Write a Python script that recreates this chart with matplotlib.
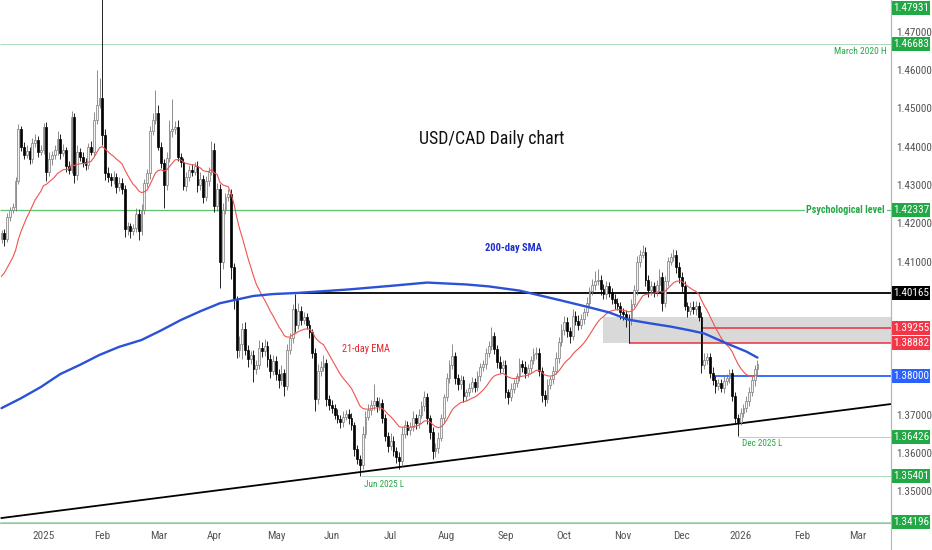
import numpy as np
import pandas as pd
import matplotlib
matplotlib.use("Agg")
import matplotlib.pyplot as plt
from matplotlib import font_manager
from matplotlib.patches import Rectangle
from matplotlib.lines import Line2D

# ---- daily closes (one list per month) ----
first_open = 1.4160
dec24 = [1.4175, 1.4158, 1.4215, 1.4235, 1.4242, 1.4310, 1.4445, 1.4400, 1.4378, 1.4388,
         1.4368, 1.4410, 1.4418, 1.4385, 1.4392]
jan25 = [1.4450, 1.4335, 1.4368, 1.4378, 1.4390, 1.4420, 1.4383, 1.4390, 1.4350, 1.4340,
         1.4478, 1.4325, 1.4385, 1.4372, 1.4360, 1.4352, 1.4398, 1.4385, 1.4470, 1.4510, 1.4528]
feb25 = [1.4430, 1.4330, 1.4320, 1.4312, 1.4322, 1.4295, 1.4305, 1.4290, 1.4185, 1.4192,
         1.4180, 1.4188, 1.4225, 1.4180, 1.4235, 1.4305, 1.4330, 1.4440, 1.4470, 1.4488]
mar25 = [1.4400, 1.4357, 1.4300, 1.4370, 1.4440, 1.4445, 1.4450, 1.4372, 1.4360, 1.4298,
         1.4320, 1.4340, 1.4335, 1.4350, 1.4300, 1.4315, 1.4268, 1.4310, 1.4335, 1.4390]
apr25 = [1.4245, 1.4290, 1.4100, 1.4235, 1.4268, 1.4275, 1.4085, 1.4000, 1.3868, 1.3885,
         1.3925, 1.3870, 1.3845, 1.3855, 1.3820, 1.3830, 1.3875, 1.3865, 1.3880, 1.3845,
         1.3815, 1.3840]
may25 = [1.3805, 1.3790, 1.3810, 1.3775, 1.3870, 1.3900, 1.3975, 1.3935, 1.3972, 1.3948,
         1.3955, 1.3935, 1.3915, 1.3862, 1.3740, 1.3815, 1.3825, 1.3835, 1.3740, 1.3725]
jun25 = [1.3718, 1.3700, 1.3688, 1.3680, 1.3695, 1.3702, 1.3690, 1.3672, 1.3610, 1.3585,
         1.3568, 1.3650, 1.3695, 1.3712, 1.3725, 1.3735, 1.3722, 1.3730, 1.3690, 1.3645, 1.3618]
jul25 = [1.3632, 1.3605, 1.3590, 1.3578, 1.3650, 1.3672, 1.3660, 1.3668, 1.3690, 1.3678,
         1.3700, 1.3722, 1.3745, 1.3690, 1.3655, 1.3605, 1.3612, 1.3640, 1.3690, 1.3745]
aug25 = [1.3795, 1.3830, 1.3852, 1.3795, 1.3780, 1.3790, 1.3750, 1.3758, 1.3770, 1.3785,
         1.3772, 1.3800, 1.3825, 1.3832, 1.3860, 1.3880, 1.3905, 1.3872, 1.3838, 1.3822, 1.3830]
sep25 = [1.3758, 1.3745, 1.3768, 1.3782, 1.3800, 1.3832, 1.3825, 1.3808, 1.3822, 1.3842,
         1.3858, 1.3862, 1.3815, 1.3752, 1.3742, 1.3778, 1.3792, 1.3815, 1.3848, 1.3890, 1.3920]
oct25 = [1.3942, 1.3918, 1.3905, 1.3958, 1.3945, 1.3935, 1.3950, 1.3968, 1.3992, 1.4022,
         1.4038, 1.4048, 1.4052, 1.4028, 1.4015, 1.4035, 1.4020, 1.4002, 1.3992, 1.3985, 1.3968]
nov25 = [1.3962, 1.3950, 1.3946, 1.3990, 1.4025, 1.4100, 1.4118, 1.4125, 1.4052, 1.4025,
         1.4035, 1.4020, 1.4038, 1.4060, 1.3992, 1.4048, 1.4100, 1.4113, 1.4118, 1.4085, 1.4060]
dec25 = [1.4035, 1.3985, 1.3970, 1.3982, 1.3975, 1.3985, 1.3955, 1.3830, 1.3842, 1.3850,
         1.3810, 1.3790, 1.3775, 1.3782, 1.3770, 1.3788, 1.3795, 1.3808, 1.3750, 1.3690, 1.3682]
jan26 = [1.3705, 1.3718, 1.3735, 1.3760, 1.3790, 1.3818, 1.3832]

# wick lengths beyond the body, in pips (upper / lower)
wick_up = [8, 10, 12, 8, 10, 12, 15, 10, 12, 15, 10, 12, 14, 10, 12,
           12, 15, 18, 10, 14, 20, 12, 16, 10, 12, 14, 10, 18, 12, 14, 10, 12, 16, 20, 90, 52,
           265, 15, 18, 12, 14, 10, 15, 12, 10, 12, 8, 10, 15, 12, 14, 10, 12, 15, 18, 59,
           20, 12, 10, 15, 30, 80, 18, 20, 12, 10, 14, 12, 15, 10, 12, 18, 10, 14, 12, 25,
           20, 15, 12, 18, 10, 14, 15, 12, 10, 20, 14, 18, 12, 10, 14, 12, 20, 15, 18, 12, 14, 16,
           12, 14, 20, 10, 15, 12, 15, 41, 20, 12, 14, 10, 12, 10, 12, 18, 15, 20, 10, 12,
           12, 10, 15, 12, 14, 10, 12, 15, 10, 12, 10, 20, 14, 15, 12, 45, 12, 15, 10, 12, 10,
           20, 12, 10, 12, 18, 15, 12, 14, 20, 12, 15, 14, 18, 12, 10, 12, 15, 14, 12, 10,
           14, 12, 33, 12, 10, 14, 12, 10, 12, 14, 12, 15, 10, 12, 14, 12, 23, 12, 10, 14, 12,
           12, 10, 14, 12, 10, 15, 12, 14, 10, 12, 15, 14, 12, 10, 12, 14, 10, 12, 15, 12, 18,
           15, 12, 10, 18, 12, 14, 12, 10, 14, 12, 15, 27, 28, 14, 12, 15, 12, 10, 14, 12, 10,
           10, 12, 14, 12, 14, 15, 12, 17, 14, 12, 15, 12, 14, 20, 12, 15, 12, 10, 14, 12, 14,
           12, 14, 10, 12, 15, 12, 10, 14, 18, 12, 10, 14, 12, 10, 12, 14, 12, 10, 12, 10, 12,
           12, 10, 14, 12, 10, 12, 10]
wick_dn = [12, 18, 8, 10, 8, 10, 8, 12, 10, 8, 14, 10, 10, 12, 8,
           10, 25, 12, 15, 10, 12, 14, 8, 15, 12, 10, 20, 12, 10, 14, 12, 10, 8, 10, 12, 10,
           25, 18, 12, 14, 10, 15, 12, 14, 20, 15, 18, 12, 10, 24, 10, 12, 10, 14, 10, 12,
           10, 14, 60, 12, 10, 15, 12, 10, 14, 12, 15, 10, 12, 10, 18, 12, 14, 10, 12, 10,
           15, 12, 70, 20, 12, 10, 30, 25, 20, 18, 40, 15, 20, 12, 35, 14, 10, 15, 12, 20, 18, 12,
           15, 20, 12, 25, 10, 12, 14, 18, 12, 14, 10, 12, 14, 15, 30, 12, 14, 10, 18, 12,
           14, 12, 10, 15, 12, 10, 14, 12, 18, 15, 28, 10, 12, 10, 14, 12, 15, 10, 12, 14, 15,
           10, 14, 15, 20, 12, 10, 14, 12, 10, 15, 12, 10, 12, 14, 18, 20, 15, 12, 10, 12,
           10, 12, 10, 14, 15, 12, 18, 14, 10, 12, 14, 10, 12, 10, 12, 10, 12, 14, 15, 12, 10,
           15, 18, 10, 12, 10, 12, 14, 12, 10, 12, 10, 12, 15, 18, 20, 12, 10, 12, 10, 14, 10,
           12, 14, 18, 10, 12, 14, 10, 12, 10, 12, 10, 12, 10, 15, 14, 12, 14, 12, 15, 12, 18,
           15, 20, 58, 12, 10, 12, 14, 10, 15, 18, 12, 14, 10, 12, 20, 10, 12, 10, 12, 14, 15,
           14, 12, 15, 10, 12, 14, 10, 20, 12, 10, 14, 12, 18, 10, 12, 14, 10, 12, 15, 12, 39,
           10, 12, 10, 12, 10, 14, 12]

# 200-day SMA (bar index, value)
sma_bar = [0, 7, 14, 21, 28, 35, 42, 50, 57, 64, 71, 78, 83, 90, 97, 106, 110, 124, 140,
           152, 166, 174, 185, 200, 209, 217, 224, 232, 239, 246, 251, 259, 266, 270]
sma_val = [1.3717, 1.3743, 1.3772, 1.3806, 1.3830, 1.3856, 1.3877, 1.3895, 1.3920, 1.3947,
           1.3970, 1.3991, 1.3999, 1.4010, 1.4015, 1.4018, 1.4020, 1.4027, 1.4037, 1.4045,
           1.4040, 1.4035, 1.4024, 1.3998, 1.3982, 1.3967, 1.3948, 1.3938, 1.3930, 1.3920,
           1.3912, 1.3886, 1.3865, 1.3849]
ema_seed = 1.4050

# month labels (bar index of first trading day)
month_bar = [15, 36, 56, 76, 98, 118, 139, 159, 180, 201, 222, 243, 264, 286, 306]
month_lab = ['2025', 'Feb', 'Mar', 'Apr', 'May', 'Jun', 'Jul', 'Aug', 'Sep', 'Oct', 'Nov',
             'Dec', '2026', 'Feb', 'Mar']

# price axis grid labels (those under a price tag are left out)
ytick_vals = [1.35, 1.36, 1.37, 1.41, 1.42, 1.43, 1.44, 1.45, 1.46, 1.47]

# trendline anchors
trend_bar = [0, 318]
trend_val = [1.3430, 1.3728]

# horizontal levels and the bar they start from
lvl_price = [1.46683, 1.42337, 1.40165, 1.39255, 1.38882, 1.38000, 1.36426, 1.35401, 1.34196]
lvl_start = [-1, -1, 105, 250, 224, 254, 263, 128.5, -1]
lvl_color = ['#a8dcb5', '#5cc46e', '#000000', '#e8323c', '#e8323c', '#2962ff', '#a8dcb5',
             '#a8dcb5', '#a8dcb5']
lvl_width = [0.7, 0.9, 1.3, 1.1, 1.1, 1.3, 0.7, 0.7, 0.7]
zone_lo, zone_hi, zone_start = 1.38882, 1.39540, 215

# price tags on the right axis
tag_price = [1.47931, 1.46683, 1.42337, 1.40165, 1.39255, 1.38882, 1.38000, 1.36426, 1.35401,
             1.34196]
tag_color = ['#22a845', '#22a845', '#22a845', '#000000', '#f23645', '#f23645', '#2962ff',
             '#22a845', '#22a845', '#22a845']


def pick_font():
    """Use a narrow family when one is installed, else shrink DejaVu Sans."""
    fonts = font_manager.fontManager.ttflist
    names = {f.name for f in fonts}
    for fam in ['Liberation Sans Narrow', 'Roboto Condensed', 'Open Sans Condensed',
                'Noto Sans Condensed']:
        if fam in names:
            return fam, 'normal', 1.0
    if any(f.name == 'DejaVu Sans' and 'condensed' in str(f.stretch) for f in fonts):
        return 'DejaVu Sans', 'condensed', 0.9
    return 'DejaVu Sans', 'normal', 0.78


def build_ohlc():
    close = np.array(dec24 + jan25 + feb25 + mar25 + apr25 + may25 + jun25 + jul25 + aug25
                     + sep25 + oct25 + nov25 + dec25 + jan26)
    opn = np.concatenate([[first_open], close[:-1]])
    high = np.maximum(opn, close) + np.array(wick_up) * 1e-4
    low = np.minimum(opn, close) - np.array(wick_dn) * 1e-4
    return opn, high, low, close


def plot_chart():
    fam, stretch, k = pick_font()
    plt.rcParams['font.family'] = [fam, 'DejaVu Sans']
    plt.rcParams['font.stretch'] = stretch

    opn, high, low, close = build_ohlc()
    x = np.arange(len(close))
    ema = pd.Series(np.concatenate([[ema_seed], close])).ewm(span=21, adjust=False).mean().values[1:]

    fig = plt.figure(figsize=(9.32, 5.5), dpi=100)
    ax = fig.add_axes([0, 27 / 550, 891 / 932, 523 / 550])
    xmin, xmax = -0.54, 317.7
    ymin, ymax = 1.3417, 1.4783
    ax.set_xlim(xmin, xmax)
    ax.set_ylim(ymin, ymax)

    # levels
    for p, s, c, w in zip(lvl_price, lvl_start, lvl_color, lvl_width):
        ax.hlines(p, max(s, xmin), xmax, color=c, lw=w, zorder=2)
    ax.add_patch(Rectangle((zone_start, zone_lo), xmax - zone_start, zone_hi - zone_lo,
                           facecolor='#d9d9d9', edgecolor='none', zorder=1))

    ax.plot(trend_bar, trend_val, color='#000000', lw=1.3, zorder=2)

    # candles
    up = close >= opn
    ax.vlines(x[up], low[up], high[up], color='#7a7a7a', lw=0.6, zorder=3)
    ax.vlines(x[~up], low[~up], high[~up], color='#000000', lw=0.6, zorder=3)
    body_lo = np.minimum(opn, close)
    body_h = np.maximum(np.abs(close - opn), 0.00012)
    ax.bar(x[up], body_h[up], bottom=body_lo[up], width=0.62, facecolor='#f4f4f4',
           edgecolor='#7a7a7a', linewidth=0.5, zorder=4)
    ax.bar(x[~up], body_h[~up], bottom=body_lo[~up], width=0.62, facecolor='#000000',
           edgecolor='#000000', linewidth=0.5, zorder=4)

    ax.plot(x, ema, color='#ef5350', lw=0.8, zorder=5)
    ax.plot(sma_bar, sma_val, color='#2b52d6', lw=1.7, zorder=5, solid_capstyle='round')

    # annotations
    ax.text(175, 1.4419, 'USD/CAD Daily chart', fontsize=12.9 * k, color='#111111',
            ha='center', va='center', zorder=6)
    ax.text(183, 1.4135, '200-day SMA', fontsize=7.6 * k, color='#1f2fd0', fontweight='bold',
            ha='center', va='center', zorder=6)
    ax.text(130, 1.3871, '21-day EMA', fontsize=7.4 * k, color='#e5252b',
            ha='center', va='center', zorder=6)
    ax.text(136.7, 1.3518, 'Jun 2025 L', fontsize=6.6 * k, color='#22a845',
            ha='center', va='center', zorder=6)
    ax.text(271.6, 1.3625, 'Dec 2025 L', fontsize=6.6 * k, color='#22a845',
            ha='center', va='center', zorder=6)
    ax.text(316.2, 1.4648, 'March 2020 H', fontsize=6.8 * k, color='#22a845',
            ha='right', va='center', zorder=6)
    ax.text(315.6, 1.42337, 'Psychological level', fontsize=7.3 * k, color='#22a845',
            fontweight='bold', ha='right', va='center', zorder=6,
            bbox=dict(facecolor='white', edgecolor='none', pad=1.2))

    # axes styling
    for side in ['top', 'left']:
        ax.spines[side].set_visible(False)
    ax.spines['right'].set_color('#b2b5be')
    ax.spines['bottom'].set_color('#b2b5be')
    ax.yaxis.tick_right()
    ax.set_yticks(ytick_vals)
    ax.set_yticklabels(['%.5f' % v for v in ytick_vals])
    ax.tick_params(axis='y', length=0, pad=4, labelsize=8 * k, labelcolor='#555555')
    ax.set_xticks(month_bar)
    ax.set_xticklabels(month_lab)
    ax.tick_params(axis='x', length=0, pad=6, labelsize=8 * k, labelcolor='#555555')
    fig.add_artist(Line2D([891 / 932, 891 / 932], [0, 1], color='#b2b5be', lw=0.8))

    # price tags on the axis
    tr = ax.get_yaxis_transform()
    box_h = 14 / 523 * (ymax - ymin)
    for p, c in zip(tag_price, tag_color):
        yc = min(p, ymax - box_h / 2 - 0.0003)
        ax.add_patch(Rectangle((892 / 891, yc - box_h / 2), 38 / 891, box_h, transform=tr,
                               facecolor=c, edgecolor='none', clip_on=False, zorder=10))
        ax.text(911 / 891, yc, '%.5f' % p, transform=tr, color='white', fontsize=8 * k,
                ha='center', va='center', clip_on=False, zorder=11)

    fig.savefig('out.png', dpi=100, facecolor='white')


if __name__ == "__main__":
    plot_chart()
